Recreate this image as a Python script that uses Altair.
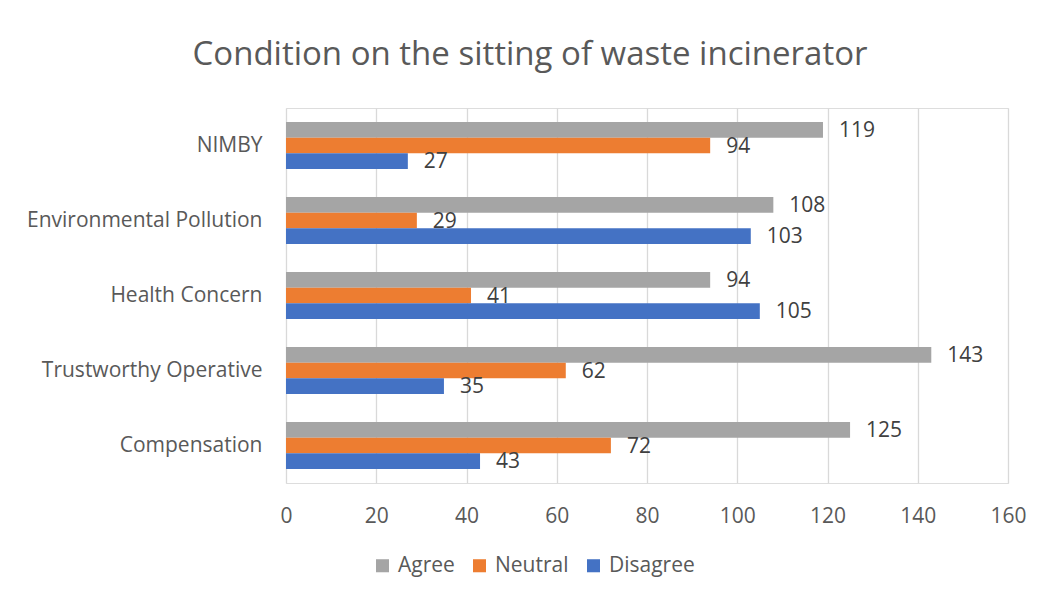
import altair as alt
import pandas as pd

categories = ["NIMBY", "Environmental Pollution", "Health Concern",
              "Trustworthy Operative", "Compensation"]
series_order = ["Agree", "Neutral", "Disagree"]
agree = [119, 108, 94, 143, 125]
neutral = [94, 29, 41, 62, 72]
disagree = [27, 103, 105, 35, 43]
x_ticks = [0, 20, 40, 60, 80, 100, 120, 140, 160]
colors = ["#A5A5A5", "#ED7D31", "#4472C4"]

rows = []
for s, vals in zip(series_order, [agree, neutral, disagree]):
    for c, v in zip(categories, vals):
        rows.append({"category": c, "series": s, "value": v})
df = pd.DataFrame(rows)

FONT = "Open Sans"
FS = 21

y_enc = alt.Y("category:N", sort=categories, title=None,
              scale=alt.Scale(paddingInner=0.373, paddingOuter=0.1865),
              axis=alt.Axis(ticks=False, domain=False, labelPadding=24,
                            labelFontSize=FS, labelColor="#595959",
                            labelFont=FONT, labelLimit=0, grid=False))
yoff = alt.YOffset("series:N", sort=series_order, scale=alt.Scale(paddingInner=0, paddingOuter=0))
x_enc = alt.X("value:Q", title=None,
              scale=alt.Scale(domain=[0, 160], nice=False),
              axis=alt.Axis(values=x_ticks, ticks=False, domain=False,
                            labelPadding=22, labelFontSize=FS, labelFlush=False,
                            labelColor="#595959", labelFont=FONT,
                            grid=True, gridColor="#d9d9d9", gridWidth=1.3))

bars = alt.Chart(df).mark_bar().encode(
    y=y_enc, yOffset=yoff, x=x_enc,
    color=alt.Color("series:N", sort=series_order,
                    scale=alt.Scale(domain=series_order, range=colors),
                    legend=alt.Legend(title=None, orient="none", direction="horizontal",
                                      legendX=86, legendY=447,
                                      symbolType="square", symbolSize=170,
                                      symbolStrokeWidth=0, labelFontSize=FS,
                                      labelColor="#595959", labelFont=FONT,
                                      columnPadding=14, labelOffset=5))
)

labels = alt.Chart(df).mark_text(align="left", baseline="middle", dx=16, dy=1,
                                 fontSize=FS, color="#404040", font=FONT).encode(
    y=alt.Y("category:N", sort=categories), yOffset=alt.YOffset("series:N", sort=series_order),
    x=alt.X("value:Q"), text=alt.Text("value:Q")
)

chart = (bars + labels).properties(
    width=722, height=375,
    title=alt.Title("Condition on the sitting of waste incinerator",
                    fontSize=33, font=FONT, fontWeight="normal", color="#595959",
                    anchor="middle", frame="group", dx=-117, offset=36),
    autosize=alt.AutoSizeParams(type="none"),
    padding={"left": 278, "top": 100, "right": 38, "bottom": 107},
).configure_view(stroke=None).configure(background="white")

chart.save("out.html", embed_options={"renderer": "svg", "actions": False})
